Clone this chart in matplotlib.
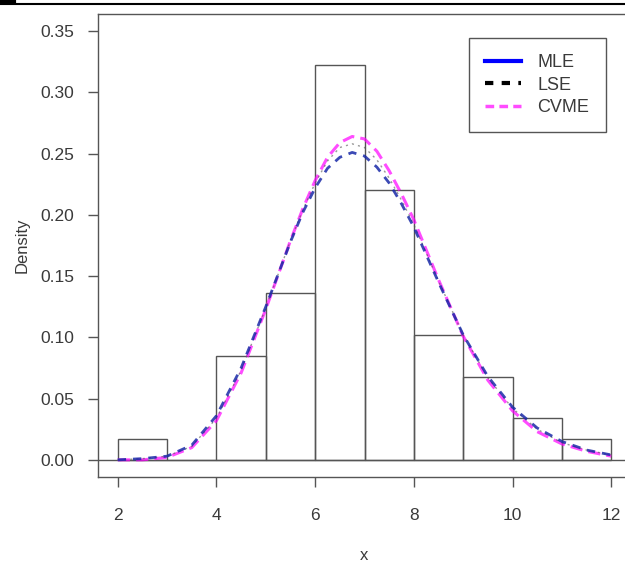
"""
    Histogram of x with three fitted density curves (MLE, LSE, CVME),
    drawn in the style of an R base-graphics plot.
"""

import matplotlib
matplotlib.use('Agg')
import matplotlib.pyplot as plt
from matplotlib.lines import Line2D

# histogram: bin edges and density per bin
bin_edges = [2, 3, 4, 5, 6, 7, 8, 9, 10, 11, 12]
bin_density = [0.017, 0.0, 0.085, 0.136, 0.322, 0.220, 0.102, 0.068, 0.034, 0.017]

# fitted curves
curve_x = [2, 2.5, 3, 3.5, 4, 4.5, 5, 5.5, 5.75, 6, 6.25, 6.5, 6.75, 7, 7.25,
           7.5, 7.75, 8, 8.5, 9, 9.5, 10, 10.5, 11, 11.5, 12]
mle_y = [0.000, 0.001, 0.003, 0.012, 0.036, 0.075, 0.125, 0.178, 0.202, 0.222,
         0.238, 0.247, 0.251, 0.248, 0.239, 0.226, 0.209, 0.190, 0.145, 0.102,
         0.068, 0.043, 0.026, 0.015, 0.008, 0.004]
lse_y = [0.000, 0.001, 0.003, 0.011, 0.034, 0.073, 0.124, 0.179, 0.204, 0.226,
         0.244, 0.255, 0.258, 0.255, 0.245, 0.230, 0.212, 0.192, 0.146, 0.102,
         0.067, 0.042, 0.025, 0.014, 0.008, 0.004]
cvme_y = [0.000, 0.000, 0.002, 0.010, 0.032, 0.071, 0.123, 0.179, 0.205, 0.228,
          0.247, 0.259, 0.264, 0.262, 0.252, 0.236, 0.217, 0.196, 0.147, 0.101,
          0.065, 0.040, 0.023, 0.013, 0.007, 0.003]

x_ticks = [2, 4, 6, 8, 10, 12]
y_ticks = [0.00, 0.05, 0.10, 0.15, 0.20, 0.25, 0.30, 0.35]
legend_labels = ['MLE', 'LSE', 'CVME']

plt.rcParams['font.family'] = ['Liberation Sans', 'DejaVu Sans']
grey = '#555555'
txt = '#3a3a3a'

W, H = 625, 565
fig = plt.figure(figsize=(W / 100, H / 100), dpi=100)
# plot region in pixels: left 98, right 631 (cut by figure), top 14, bottom 477
ax = fig.add_axes([98 / W, (H - 477) / H, 533 / W, 463 / H])
ax.set_xlim(1.6, 12.4)
ax.set_ylim(-0.014, 0.364)

# histogram bars
widths = [b - a for a, b in zip(bin_edges[:-1], bin_edges[1:])]
ax.bar(bin_edges[:-1], bin_density, width=widths, align='edge',
       facecolor='none', edgecolor=grey, linewidth=1.0, zorder=2)
ax.axhline(0, color=grey, linewidth=1.0, zorder=1)

# density curves
ax.plot(curve_x, cvme_y, color='magenta', linewidth=2.2, alpha=0.7,
        dashes=(4, 2), zorder=3)
ax.plot(curve_x, lse_y, color='#555555', linewidth=1.0, alpha=0.6,
        dashes=(1.5, 3), zorder=4)
ax.plot(curve_x, mle_y, color='#1a2aa8', linewidth=2.0, alpha=0.85,
        dashes=(3, 2.5), zorder=5)

# axes look
for sp in ax.spines.values():
    sp.set_color(grey)
    sp.set_linewidth(1.0)
ax.set_xticks(x_ticks)
ax.set_xticklabels([str(t) for t in x_ticks])
ax.set_yticks(y_ticks)
ax.set_yticklabels(['%.2f' % t for t in y_ticks])
ax.tick_params(axis='x', length=7, width=1, color=grey, pad=15,
               labelsize=12.5, labelcolor=txt)
ax.tick_params(axis='y', length=7, width=1, color=grey, pad=10,
               labelsize=12.5, labelcolor=txt)
ax.set_xlabel('x', fontsize=12, color=txt, labelpad=18)
ax.set_ylabel('Density', fontsize=12, color=txt, labelpad=8)

# legend
handles = [Line2D([], [], color='blue', linewidth=3),
           Line2D([], [], color='black', linewidth=3, dashes=(2, 2)),
           Line2D([], [], color='magenta', linewidth=2.5, dashes=(2.5, 1.5), alpha=0.7)]
leg = ax.legend(handles, legend_labels, loc='upper left',
                bbox_to_anchor=((469 - 98) / 533, (477 - 38) / 463),
                fancybox=False, framealpha=1, edgecolor=grey, fontsize=13,
                handlelength=2.0, handletextpad=0.9, borderpad=0.9,
                labelspacing=0.3, borderaxespad=0)
leg.get_frame().set_linewidth(1.0)
for t in leg.get_texts():
    t.set_color(txt)

# rule line along the top of the picture
fig.add_artist(Line2D([0, 1], [1 - 4 / H, 1 - 4 / H], color='black', linewidth=1.5))
fig.add_artist(Line2D([0, 14 / W], [1 - 1.5 / H, 1 - 1.5 / H], color='black', linewidth=3))

fig.savefig('out.png', dpi=100)
